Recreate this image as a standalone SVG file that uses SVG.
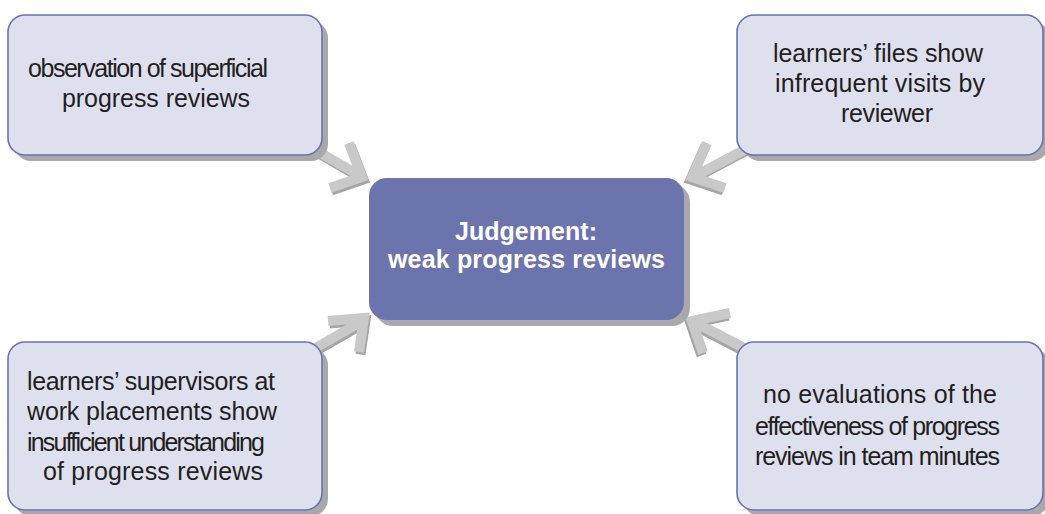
<svg xmlns="http://www.w3.org/2000/svg" width="1045" height="514" viewBox="0 0 1045 514">
<style>
.box{fill:#dfe0ee;stroke:#6a72ad;stroke-width:1.6}
.shadow{fill:#a9a9ac}
.main{fill:#6b74ad}
.t{font-family:"Liberation Sans",Arial,sans-serif;font-size:25px;fill:#231f20}
.tb{font-family:"Liberation Sans",Arial,sans-serif;font-size:25px;font-weight:bold;fill:#ffffff}
.ar{fill:none;stroke:#c9c9c9;stroke-width:10;stroke-linejoin:miter;stroke-miterlimit:10;stroke-linecap:butt}
.ars{fill:none;stroke:#a6a6a6;stroke-width:10;stroke-linejoin:miter;stroke-miterlimit:10;stroke-linecap:butt}
</style>
<rect width="1045" height="514" fill="#ffffff"/>
<g id="connectors">
  <g id="arrow-tl">
    <path class="ars" d="M312 148 L357 174 M349 143 L362 177 L330 188" transform="translate(1.5,2.5)"/>
    <path class="ar" d="M312 148 L357 174 M349 143 L362 177 L330 188"/>
  </g>
  <g id="arrow-tr">
    <path class="ars" d="M748 148 L699 174 M707 143 L692 177 L725 188" transform="translate(-1.5,2.5)"/>
    <path class="ar" d="M748 148 L699 174 M707 143 L692 177 L725 188"/>
  </g>
  <g id="arrow-bl">
    <path class="ars" d="M312 350 L359 323 M328 321 L364 318 L359 352" transform="translate(1.5,2.5)"/>
    <path class="ar" d="M312 350 L359 323 M328 321 L364 318 L359 352"/>
  </g>
  <g id="arrow-br">
    <path class="ars" d="M748 350 L698 324 M730 313 L692 321 L703 353" transform="translate(-1.5,2.5)"/>
    <path class="ar" d="M748 350 L698 324 M730 313 L692 321 L703 353"/>
  </g>
</g>
<g id="node-tl">
  <rect class="shadow" x="14" y="21" width="314" height="140" rx="17"/>
  <rect class="box" x="8" y="15" width="314" height="140" rx="17"/>
  <text class="t" x="28" y="77" textLength="240" lengthAdjust="spacing">observation of superficial</text>
  <text class="t" x="62" y="107" textLength="188" lengthAdjust="spacing">progress reviews</text>
</g>
<g id="node-tr">
  <rect class="shadow" x="743" y="21" width="306" height="140" rx="17"/>
  <rect class="box" x="737" y="15" width="306" height="140" rx="17"/>
  <text class="t" x="773" y="62" textLength="210" lengthAdjust="spacing">learners’ files show</text>
  <text class="t" x="775" y="92" textLength="210" lengthAdjust="spacing">infrequent visits by</text>
  <text class="t" x="841" y="122" textLength="92" lengthAdjust="spacing">reviewer</text>
</g>
<g id="node-center">
  <rect class="shadow" x="375" y="184" width="315" height="142" rx="18"/>
  <rect class="main" x="369" y="178" width="315" height="142" rx="18"/>
  <text class="tb" x="455" y="240" textLength="142" lengthAdjust="spacing">Judgement:</text>
  <text class="tb" x="388" y="268" textLength="277" lengthAdjust="spacing">weak progress reviews</text>
</g>
<g id="node-bl">
  <rect class="shadow" x="14" y="348" width="314" height="168" rx="17"/>
  <rect class="box" x="8" y="342" width="314" height="168" rx="17"/>
  <text class="t" x="27" y="390" textLength="248" lengthAdjust="spacing">learners’ supervisors at</text>
  <text class="t" x="27" y="420" textLength="250" lengthAdjust="spacing">work placements show</text>
  <text class="t" x="27" y="451" textLength="238" lengthAdjust="spacing">insufficient understanding</text>
  <text class="t" x="43" y="480" textLength="220" lengthAdjust="spacing">of progress reviews</text>
</g>
<g id="node-br">
  <rect class="shadow" x="743" y="348" width="306" height="168" rx="17"/>
  <rect class="box" x="737" y="342" width="306" height="168" rx="17"/>
  <text class="t" x="763" y="403" textLength="234" lengthAdjust="spacing">no evaluations of the</text>
  <text class="t" x="755" y="435" textLength="245" lengthAdjust="spacing">effectiveness of progress</text>
  <text class="t" x="755" y="465" textLength="245" lengthAdjust="spacing">reviews in team minutes</text>
</g>
</svg>
